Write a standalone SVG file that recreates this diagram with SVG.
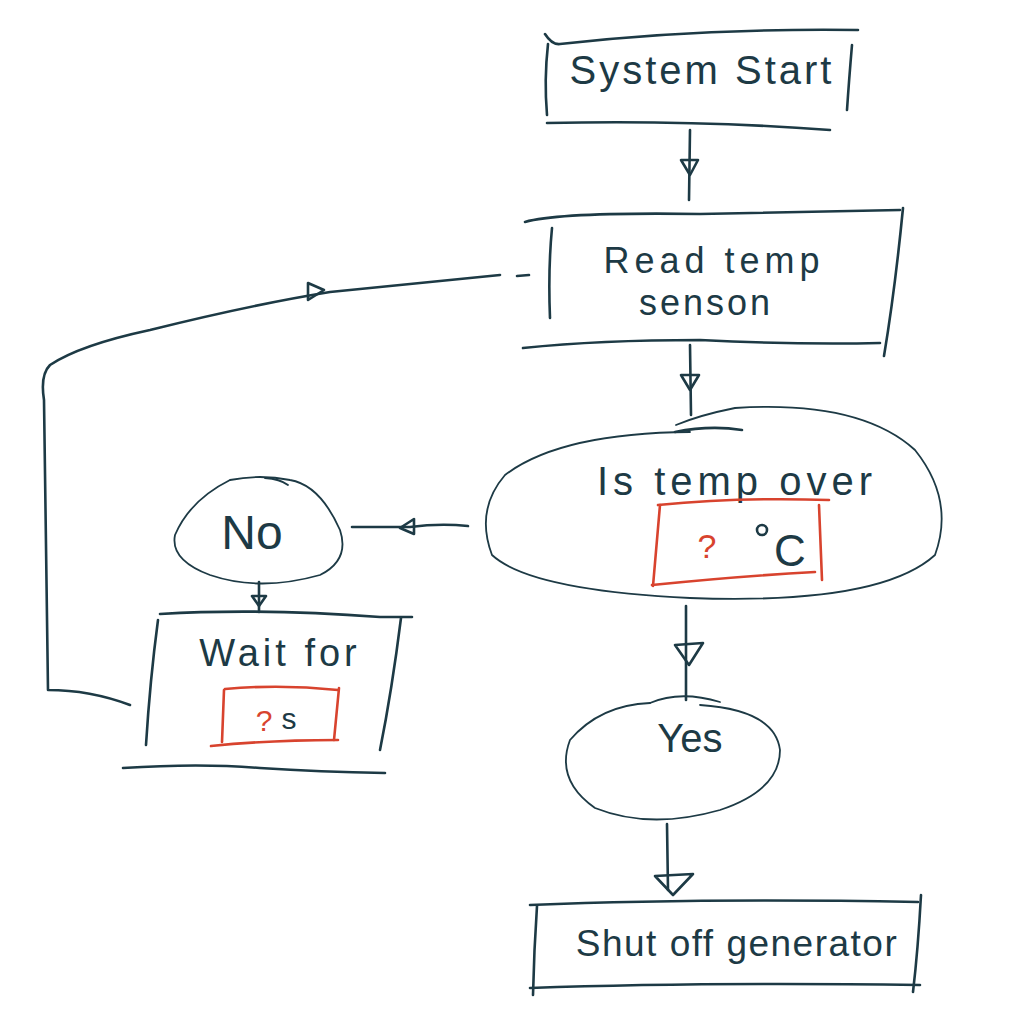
<svg xmlns="http://www.w3.org/2000/svg" width="1024" height="1024" viewBox="0 0 1024 1024">
<style>
.s{fill:none;stroke:#1d3a45;stroke-width:2.6;stroke-linecap:round;stroke-linejoin:round}
.t{fill:none;stroke:#1d3a45;stroke-width:1.8;stroke-linecap:round}
.r{fill:none;stroke:#d8432e;stroke-width:2.6;stroke-linecap:round;stroke-linejoin:round}
.a{fill:none;stroke:#1d3a45;stroke-width:2.6;stroke-linejoin:round}
.tx{font-family:"Liberation Sans",Arial,sans-serif;fill:#1d3a45;text-anchor:middle}
.rt{font-family:"Liberation Sans",Arial,sans-serif;fill:#d8432e;text-anchor:middle}
</style>
<rect width="1024" height="1024" fill="#ffffff"/>
<g id="connectors">
  <path class="s" d="M690,130 L689,200"/>
  <polygon class="a" points="681,160 698,160 690,175"/>
  <path class="s" d="M690,345 L691,415"/>
  <polygon class="a" points="681,375 699,375 690,390"/>
  <path class="s" d="M468,526 Q440,523 410,527 L352,527"/>
  <polygon class="a" points="414,519 414,534 400,528"/>
  <path class="s" d="M259,582 L259,612"/>
  <polygon class="a" points="252,596 266,596 259,606"/>
  <path class="s" d="M130,705 Q90,690 48,690 L44,400 Q40,375 50,365 Q80,345 150,330 Q250,305 330,292 L500,275"/>
  <polygon class="a" points="308,283 308,300 324,290"/>
  <path class="s" d="M686,606 L686,700"/>
  <polygon class="a" points="675,645 703,643 689,665"/>
  <path class="s" d="M667,824 L668,890"/>
  <polygon class="a" points="655,876 693,874 673,895"/>
</g>
<g id="n1">
  <path class="s" d="M545,34 Q552,45 560,44 Q700,28 858,30"/>
  <path class="s" d="M548,44 Q544,80 547,115"/>
  <path class="s" d="M852,45 Q849,80 847,110"/>
  <path class="s" d="M547,123 Q700,120 830,130"/>
  <text class="tx" x="702" y="84" font-size="40" letter-spacing="3">System Start</text>
</g>
<g id="n2">
  <path class="s" d="M525,222 Q560,212 700,214 Q820,212 900,210"/>
  <path class="s" d="M552,228 Q548,270 550,318"/>
  <path class="s" d="M903,208 Q895,290 884,356"/>
  <path class="s" d="M523,348 Q600,340 700,340 Q800,345 880,343"/>
  <path class="s" d="M517,276 L529,275"/>
  <text class="tx" x="714" y="273" font-size="36" letter-spacing="5">Read temp</text>
  <text class="tx" x="706" y="315" font-size="36" letter-spacing="3">senson</text>
</g>
<g id="n3">
  <path class="t" d="M690,432 Q560,433 505,475 Q475,510 492,555 Q530,590 690,598 Q880,605 935,555 Q955,500 915,450 Q860,400 735,408 Q700,415 676,425"/>
  <path class="s" d="M675,432 Q710,425 742,430"/>
  <text class="tx" x="737" y="495" font-size="40" letter-spacing="5">Is temp over</text>
  <path class="r" d="M658,505 Q740,497 829,500"/>
  <path class="r" d="M660,505 L653,586"/>
  <path class="r" d="M819,505 L822,580"/>
  <path class="r" d="M652,585 Q740,576 815,572"/>
  <text class="rt" x="707" y="558" font-size="34">?</text>
  <circle cx="762" cy="530" r="5" fill="none" stroke="#1d3a45" stroke-width="2.6"/>
  <text class="tx" x="790" y="566" font-size="44">C</text>
</g>
<g id="n4">
  <path class="t" d="M230,480 Q190,500 175,535 Q170,560 210,575 Q260,592 320,575 Q350,560 340,530 Q320,485 290,480 Q260,474 230,480"/>
  <path class="t" d="M265,478 Q280,479 288,485"/>
  <text class="tx" x="252" y="549" font-size="48">No</text>
</g>
<g id="n5">
  <path class="s" d="M160,614 Q260,608 380,617 L412,617"/>
  <path class="s" d="M158,620 Q150,680 146,745"/>
  <path class="s" d="M401,618 Q392,690 380,750"/>
  <path class="s" d="M123,768 Q200,763 260,768 Q320,772 385,773"/>
  <text class="tx" x="280" y="666" font-size="38" letter-spacing="4">Wait for</text>
  <path class="r" d="M225,689 Q280,684 338,690"/>
  <path class="r" d="M224,690 L222,742"/>
  <path class="r" d="M339,688 L334,740"/>
  <path class="r" d="M211,746 Q270,740 338,740"/>
  <text class="rt" x="264" y="731" font-size="30">?</text>
  <text class="tx" x="289" y="729" font-size="30">s</text>
</g>
<g id="n6">
  <path class="t" d="M650,703 Q600,705 570,740 Q555,780 595,808 Q650,830 720,810 Q780,790 780,750 Q775,710 700,705"/>
  <path class="t" d="M650,703 Q680,690 720,702"/>
  <text class="tx" x="690" y="752" font-size="40">Yes</text>
</g>
<g id="n7">
  <path class="s" d="M530,905 Q700,898 918,902"/>
  <path class="s" d="M537,906 Q534,950 533,995"/>
  <path class="s" d="M921,895 Q918,950 913,992"/>
  <path class="s" d="M530,988 Q700,982 920,985"/>
  <text class="tx" x="737" y="956" font-size="37" letter-spacing="1.5">Shut off generator</text>
</g>
</svg>
